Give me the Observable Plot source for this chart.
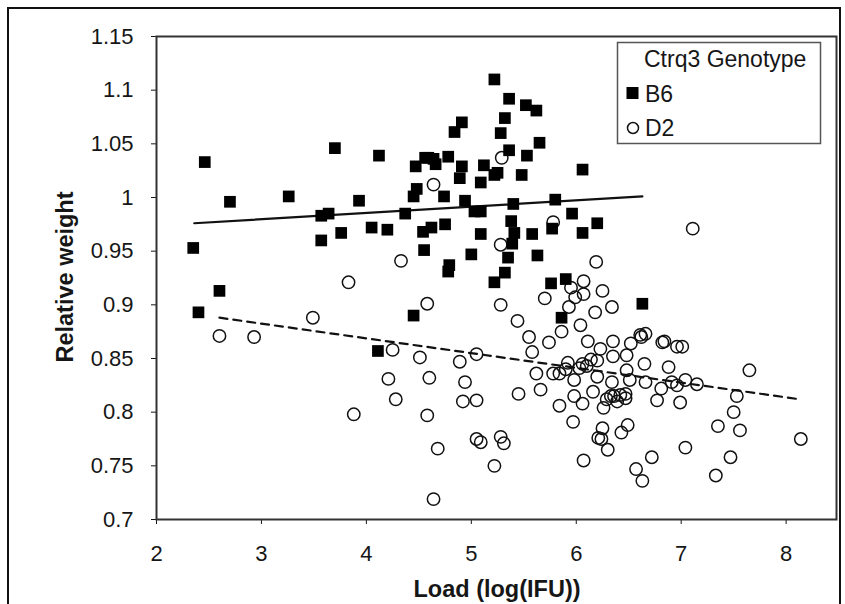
<!DOCTYPE html>
<html><head><meta charset="utf-8">
<script src="https://cdn.jsdelivr.net/npm/d3@7"></script>
<script src="https://cdn.jsdelivr.net/npm/@observablehq/plot@0.6"></script>
<style>
html,body{margin:0;padding:0;background:#fff;}
#wrap{position:relative;width:845px;height:604px;overflow:hidden;background:#fff;}
#border{position:absolute;left:7px;top:7px;width:834px;height:640px;border:2px solid #111;box-sizing:border-box;pointer-events:none;}
#wrap svg{display:block;}
</style></head><body>
<div id="wrap"><div id="border"></div></div>
<script>
// Ctrq3 genotype B6: [load log(IFU), relative weight]
const b6 = [
  [2.35,0.953],[2.40,0.893],[2.46,1.033],[2.60,0.913],[2.70,0.996],[3.26,1.001],[3.57,0.983],[3.64,0.985],[3.57,0.960],[3.70,1.046],
  [3.76,0.967],[3.93,0.997],[4.05,0.972],[4.12,1.039],[4.20,0.970],[4.11,0.857],[4.37,0.985],[4.45,0.890],[4.45,1.001],[4.48,1.008],
  [4.47,1.029],[4.59,1.037],[4.66,1.031],[4.54,0.968],[4.62,0.972],[4.55,0.951],[4.75,0.975],[4.74,1.001],[4.78,1.038],[4.84,1.061],
  [4.91,1.070],[4.78,0.931],[4.79,0.937],[4.91,1.029],[4.89,1.018],[4.94,0.997],[5.00,0.947],[5.03,0.987],[5.09,0.987],[5.09,0.966],
  [5.09,1.014],[5.12,1.030],[5.22,1.021],[5.25,1.023],[5.22,1.110],[5.22,0.921],[5.36,1.092],[5.32,1.074],[5.28,1.060],[5.36,1.044],
  [5.40,0.994],[5.38,0.978],[5.41,0.967],[5.39,0.957],[5.35,0.944],[5.32,0.930],[5.48,1.021],[5.52,1.086],[5.62,1.081],[5.53,1.039],
  [5.65,1.051],[5.58,0.966],[5.63,0.946],[5.80,0.998],[5.77,0.971],[5.76,0.920],[5.90,0.924],[5.86,0.888],[5.96,0.985],[6.06,0.967],
  [6.06,1.026],[6.20,0.976],[6.63,0.901],[4.64,1.036],[4.56,1.037]
];
// Ctrq3 genotype D2
const d2 = [
  [2.60,0.871],[2.93,0.870],[3.49,0.888],[3.83,0.921],[3.88,0.798],[4.33,0.941],[4.21,0.831],[4.25,0.858],[4.28,0.812],[4.51,0.851],
  [4.58,0.901],[4.60,0.832],[4.58,0.797],[4.64,1.012],[4.68,0.766],[4.64,0.719],[4.89,0.847],[4.94,0.828],[4.92,0.810],[5.05,0.854],
  [5.05,0.811],[5.05,0.775],[5.09,0.772],[5.22,0.750],[5.28,0.777],[5.31,0.771],[5.28,0.900],[5.28,0.956],[5.29,1.037],[5.44,0.885],
  [5.45,0.817],[5.55,0.870],[5.58,0.856],[5.62,0.836],[5.66,0.821],[5.70,0.906],[5.74,0.865],[5.78,0.836],[5.84,0.806],[5.86,0.875],
  [5.78,0.977],[5.84,0.836],[5.93,0.898],[5.95,0.916],[5.99,0.907],[6.07,0.922],[6.07,0.910],[5.92,0.846],[5.98,0.830],[5.98,0.815],
  [5.97,0.791],[6.04,0.881],[6.06,0.845],[6.11,0.866],[6.16,0.819],[6.06,0.808],[6.07,0.755],[6.18,0.893],[6.19,0.940],[6.25,0.913],
  [6.34,0.898],[6.20,0.848],[6.20,0.833],[6.23,0.859],[6.26,0.804],[6.25,0.785],[6.24,0.775],[6.30,0.765],[6.35,0.866],[6.35,0.852],
  [6.34,0.828],[6.36,0.815],[6.39,0.810],[6.43,0.781],[6.48,0.853],[6.48,0.839],[6.49,0.788],[6.51,0.830],[6.52,0.864],[6.47,0.817],
  [6.47,0.813],[6.62,0.870],[6.66,0.873],[6.65,0.845],[6.66,0.828],[6.57,0.747],[6.63,0.736],[6.72,0.758],[6.77,0.811],[6.81,0.822],
  [6.84,0.866],[6.88,0.842],[6.91,0.828],[6.96,0.825],[6.96,0.861],[7.01,0.861],[6.99,0.809],[7.04,0.830],[7.04,0.767],[7.15,0.826],
  [7.11,0.971],[7.35,0.787],[7.33,0.741],[7.47,0.758],[7.50,0.800],[7.53,0.815],[7.56,0.783],[7.65,0.839],[8.14,0.775],
  [5.90,0.840],[6.03,0.841],[6.10,0.843],[6.14,0.849],[6.29,0.812],[6.33,0.815],[6.42,0.816],[6.21,0.776],[6.82,0.865],[6.61,0.872]
];
// Fitted trend lines (end points)
const b6Fit = [[2.36,0.976],[6.63,1.001]];
const d2Fit = [[2.60,0.888],[8.13,0.812]];

const xTicks = [2,3,4,5,6,7,8];
const yTicks = [0.7,0.75,0.8,0.85,0.9,0.95,1,1.05,1.1,1.15];
const xLabel = "Load (log(IFU))";
const yLabel = "Relative weight";
const legendTitle = "Ctrq3 Genotype";
const seriesNames = ["B6","D2"];

const FONT = "'Liberation Sans', Arial, Helvetica, sans-serif";
const ink = "#161616";

const chart = Plot.plot({
  width: 845, height: 604,
  marginLeft: 156, marginRight: 9, marginTop: 36, marginBottom: 85,
  style: {fontFamily: FONT, fontSize: "22px", color: ink, background: "transparent", overflow: "visible"},
  x: {domain: [2, 8.48], ticks: xTicks, tickFormat: d => String(d), tickSize: 5, tickPadding: 21, label: null},
  y: {domain: [0.7, 1.15], ticks: yTicks, tickFormat: d => String(+d.toFixed(2)), tickSize: 5, tickPadding: 18, label: null},
  marks: [
    Plot.line(d2Fit, {x: d => d[0], y: d => d[1], stroke: "#111", strokeWidth: 2.2, strokeDasharray: "8,6"}),
    Plot.line(b6Fit, {x: d => d[0], y: d => d[1], stroke: "#111", strokeWidth: 2.2}),
    Plot.dot(d2, {x: d => d[0], y: d => d[1], r: 6.2, fill: "none", stroke: "#111", strokeWidth: 1.5}),
    Plot.dot(b6, {x: d => d[0], y: d => d[1], symbol: "square", r: 6.6, fill: "#000", stroke: "none"}),
    Plot.frame({stroke: "#333", strokeWidth: 2})
  ]
});
document.getElementById("wrap").appendChild(chart);

const svg = d3.select(chart);

// axis titles
svg.append("text")
  .attr("x", 497).attr("y", 597)
  .attr("text-anchor", "middle")
  .attr("font-family", FONT).attr("font-weight", "bold").attr("font-size", 23.5)
  .attr("fill", ink).text(xLabel);
svg.append("text")
  .attr("transform", "translate(73,277) rotate(-90)")
  .attr("text-anchor", "middle")
  .attr("font-family", FONT).attr("font-weight", "bold").attr("font-size", 23.5)
  .attr("fill", ink).text(yLabel);

// legend
const lg = svg.append("g").attr("font-family", FONT).attr("fill", ink).attr("text-anchor", "start");
lg.append("rect").attr("x", 617.5).attr("y", 42.5).attr("width", 203).attr("height", 101)
  .attr("fill", "#fff").attr("stroke", "#555").attr("stroke-width", 1.5);
lg.append("text").attr("x", 644).attr("y", 67).attr("font-size", 23).attr("text-anchor", "start").text(legendTitle);
lg.append("rect").attr("x", 626.5).attr("y", 87).attr("width", 12).attr("height", 12).attr("fill", "#000");
lg.append("text").attr("x", 645).attr("y", 102).attr("font-size", 23).attr("text-anchor", "start").text(seriesNames[0]);
lg.append("circle").attr("cx", 633).attr("cy", 128).attr("r", 5.5).attr("fill", "none").attr("stroke", "#111").attr("stroke-width", 1.5);
lg.append("text").attr("x", 645).attr("y", 136).attr("font-size", 23).attr("text-anchor", "start").text(seriesNames[1]);
</script>
</body></html>
